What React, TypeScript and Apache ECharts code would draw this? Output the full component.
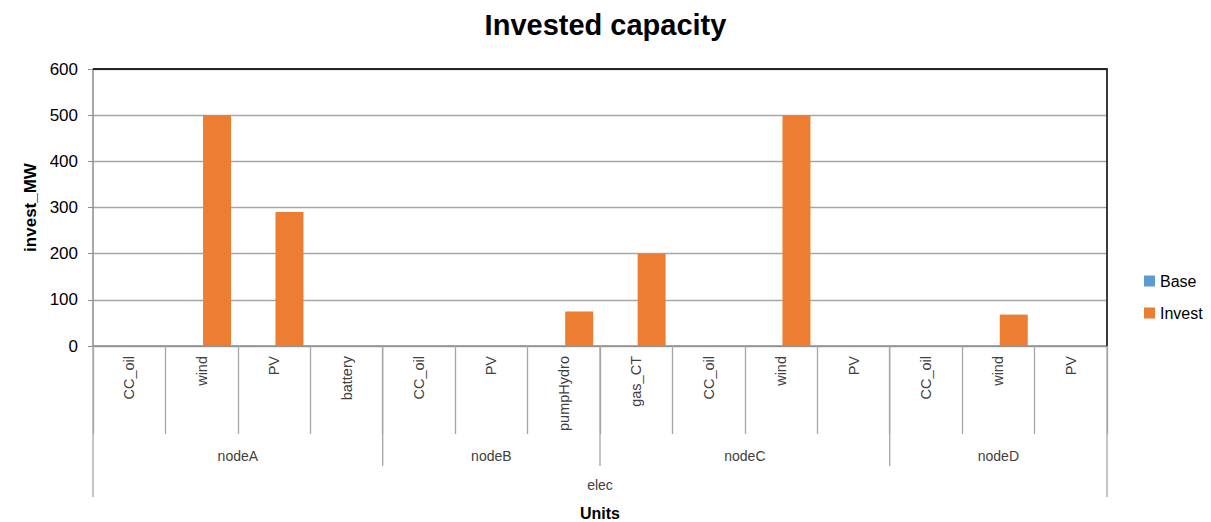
import React, { useEffect, useRef } from "react";
import * as echarts from "echarts";

const nodes = ["nodeA", "nodeB", "nodeC", "nodeD"];
const nodeUnits = [
  ["CC_oil", "wind", "PV", "battery"],
  ["CC_oil", "PV", "pumpHydro"],
  ["gas_CT", "CC_oil", "wind", "PV"],
  ["CC_oil", "wind", "PV"],
];
const topGroup = "elec";
const categories = nodeUnits.flat();
const baseValues = [0, 0, 0, 0, 0, 0, 0, 0, 0, 0, 0, 0, 0, 0];
const investValues = [0, 500, 290, 0, 0, 0, 75, 200, 0, 500, 0, 0, 68, 0];
const yTicks = { min: 0, max: 600, interval: 100 };

const FONT = "Liberation Sans";
const W = 1211;
const H = 522;
const GL = 93;
const GR = 1107;
const GT = 69;
const GB = 346;

export default function App() {
  const ref = useRef<HTMLDivElement>(null);
  useEffect(() => {
    document.body.style.margin = "0";
    const chart = echarts.init(ref.current!, null, { renderer: "svg" });
    const n = categories.length;
    const band = (GR - GL) / n;
    const graphics: any[] = [];
    let start = 0;
    nodes.forEach((nd, gi) => {
      const cnt = nodeUnits[gi].length;
      const x0 = GL + start * band;
      const x1 = GL + (start + cnt) * band;
      graphics.push({
        type: "text",
        x: (x0 + x1) / 2,
        y: 456,
        style: { text: nd, font: `14px "${FONT}"`, fill: "#404040", align: "center", verticalAlign: "middle" },
      });
      if (gi > 0) {
        graphics.push({
          type: "line",
          shape: { x1: x0, y1: GB, x2: x0, y2: 466 },
          style: { stroke: "#a6a6a6", lineWidth: 1.3 },
        });
      }
      start += cnt;
    });
    [GL, GR].forEach((x) => {
      graphics.push({
        type: "line",
        shape: { x1: x, y1: GB, x2: x, y2: 497 },
        style: { stroke: "#a6a6a6", lineWidth: 1.3 },
      });
    });
    graphics.push({
      type: "text",
      x: (GL + GR) / 2,
      y: 485,
      style: { text: topGroup, font: `14px "${FONT}"`, fill: "#404040", align: "center", verticalAlign: "middle" },
    });
    graphics.push({
      type: "text",
      x: (GL + GR) / 2,
      y: 513,
      style: { text: "Units", font: `bold 16px "${FONT}"`, fill: "#000", align: "center", verticalAlign: "middle" },
    });
    graphics.push({
      type: "polyline",
      shape: { points: [[GL, GT], [GR, GT], [GR, GB]] },
      style: { stroke: "#262626", lineWidth: 1.8, fill: null },
      z: 10,
    });

    chart.setOption({
      animation: false,
      backgroundColor: "#fff",
      title: {
        text: "Invested capacity",
        left: "center",
        top: 5,
        textStyle: { fontFamily: FONT, fontWeight: "bold", fontSize: 29, color: "#000" },
      },
      legend: {
        orient: "vertical",
        left: 1139,
        top: 268,
        itemWidth: 11,
        itemHeight: 11,
        itemGap: 16,
        itemStyle: { borderWidth: 0 },
        icon: "rect",
        textStyle: { fontFamily: FONT, fontSize: 16, color: "#000" },
        data: ["Base", "Invest"],
      },
      grid: { left: GL, right: W - GR, top: GT, bottom: H - GB, containLabel: false },
      xAxis: {
        type: "category",
        data: categories,
        axisLine: { lineStyle: { color: "#8c8c8c", width: 1.5 } },
        axisTick: { show: true, length: 88, lineStyle: { color: "#a6a6a6", width: 1.3 } },
        axisLabel: {
          rotate: 90,
          interval: 0,
          margin: 10,
          fontFamily: FONT,
          fontSize: 14.5,
          color: "#404040",
        },
      },
      yAxis: {
        type: "value",
        min: yTicks.min,
        max: yTicks.max,
        interval: yTicks.interval,
        name: "invest_MW",
        nameLocation: "middle",
        nameGap: 54,
        nameTextStyle: { fontFamily: FONT, fontWeight: "bold", fontSize: 17, color: "#000" },
        axisLine: { show: true, lineStyle: { color: "#8c8c8c", width: 1.5 } },
        axisTick: { show: true, length: 5, lineStyle: { color: "#8c8c8c" } },
        axisLabel: { margin: 15, fontFamily: FONT, fontSize: 17, color: "#000" },
        splitLine: { lineStyle: { color: "#a6a6a6", width: 1.3 } },
      },
      graphic: graphics,
      series: [
        {
          name: "Base",
          type: "bar",
          data: baseValues,
          barWidth: 28,
          barGap: "10%",
          itemStyle: { color: "#5B9BD5" },
        },
        {
          name: "Invest",
          type: "bar",
          data: investValues,
          barWidth: 28,
          barGap: "10%",
          itemStyle: { color: "#ED7D31" },
        },
      ],
    });
    return () => chart.dispose();
  }, []);
  return <div ref={ref} style={{ width: W, height: H, position: "absolute", left: 0, top: 0 }} />;
}
